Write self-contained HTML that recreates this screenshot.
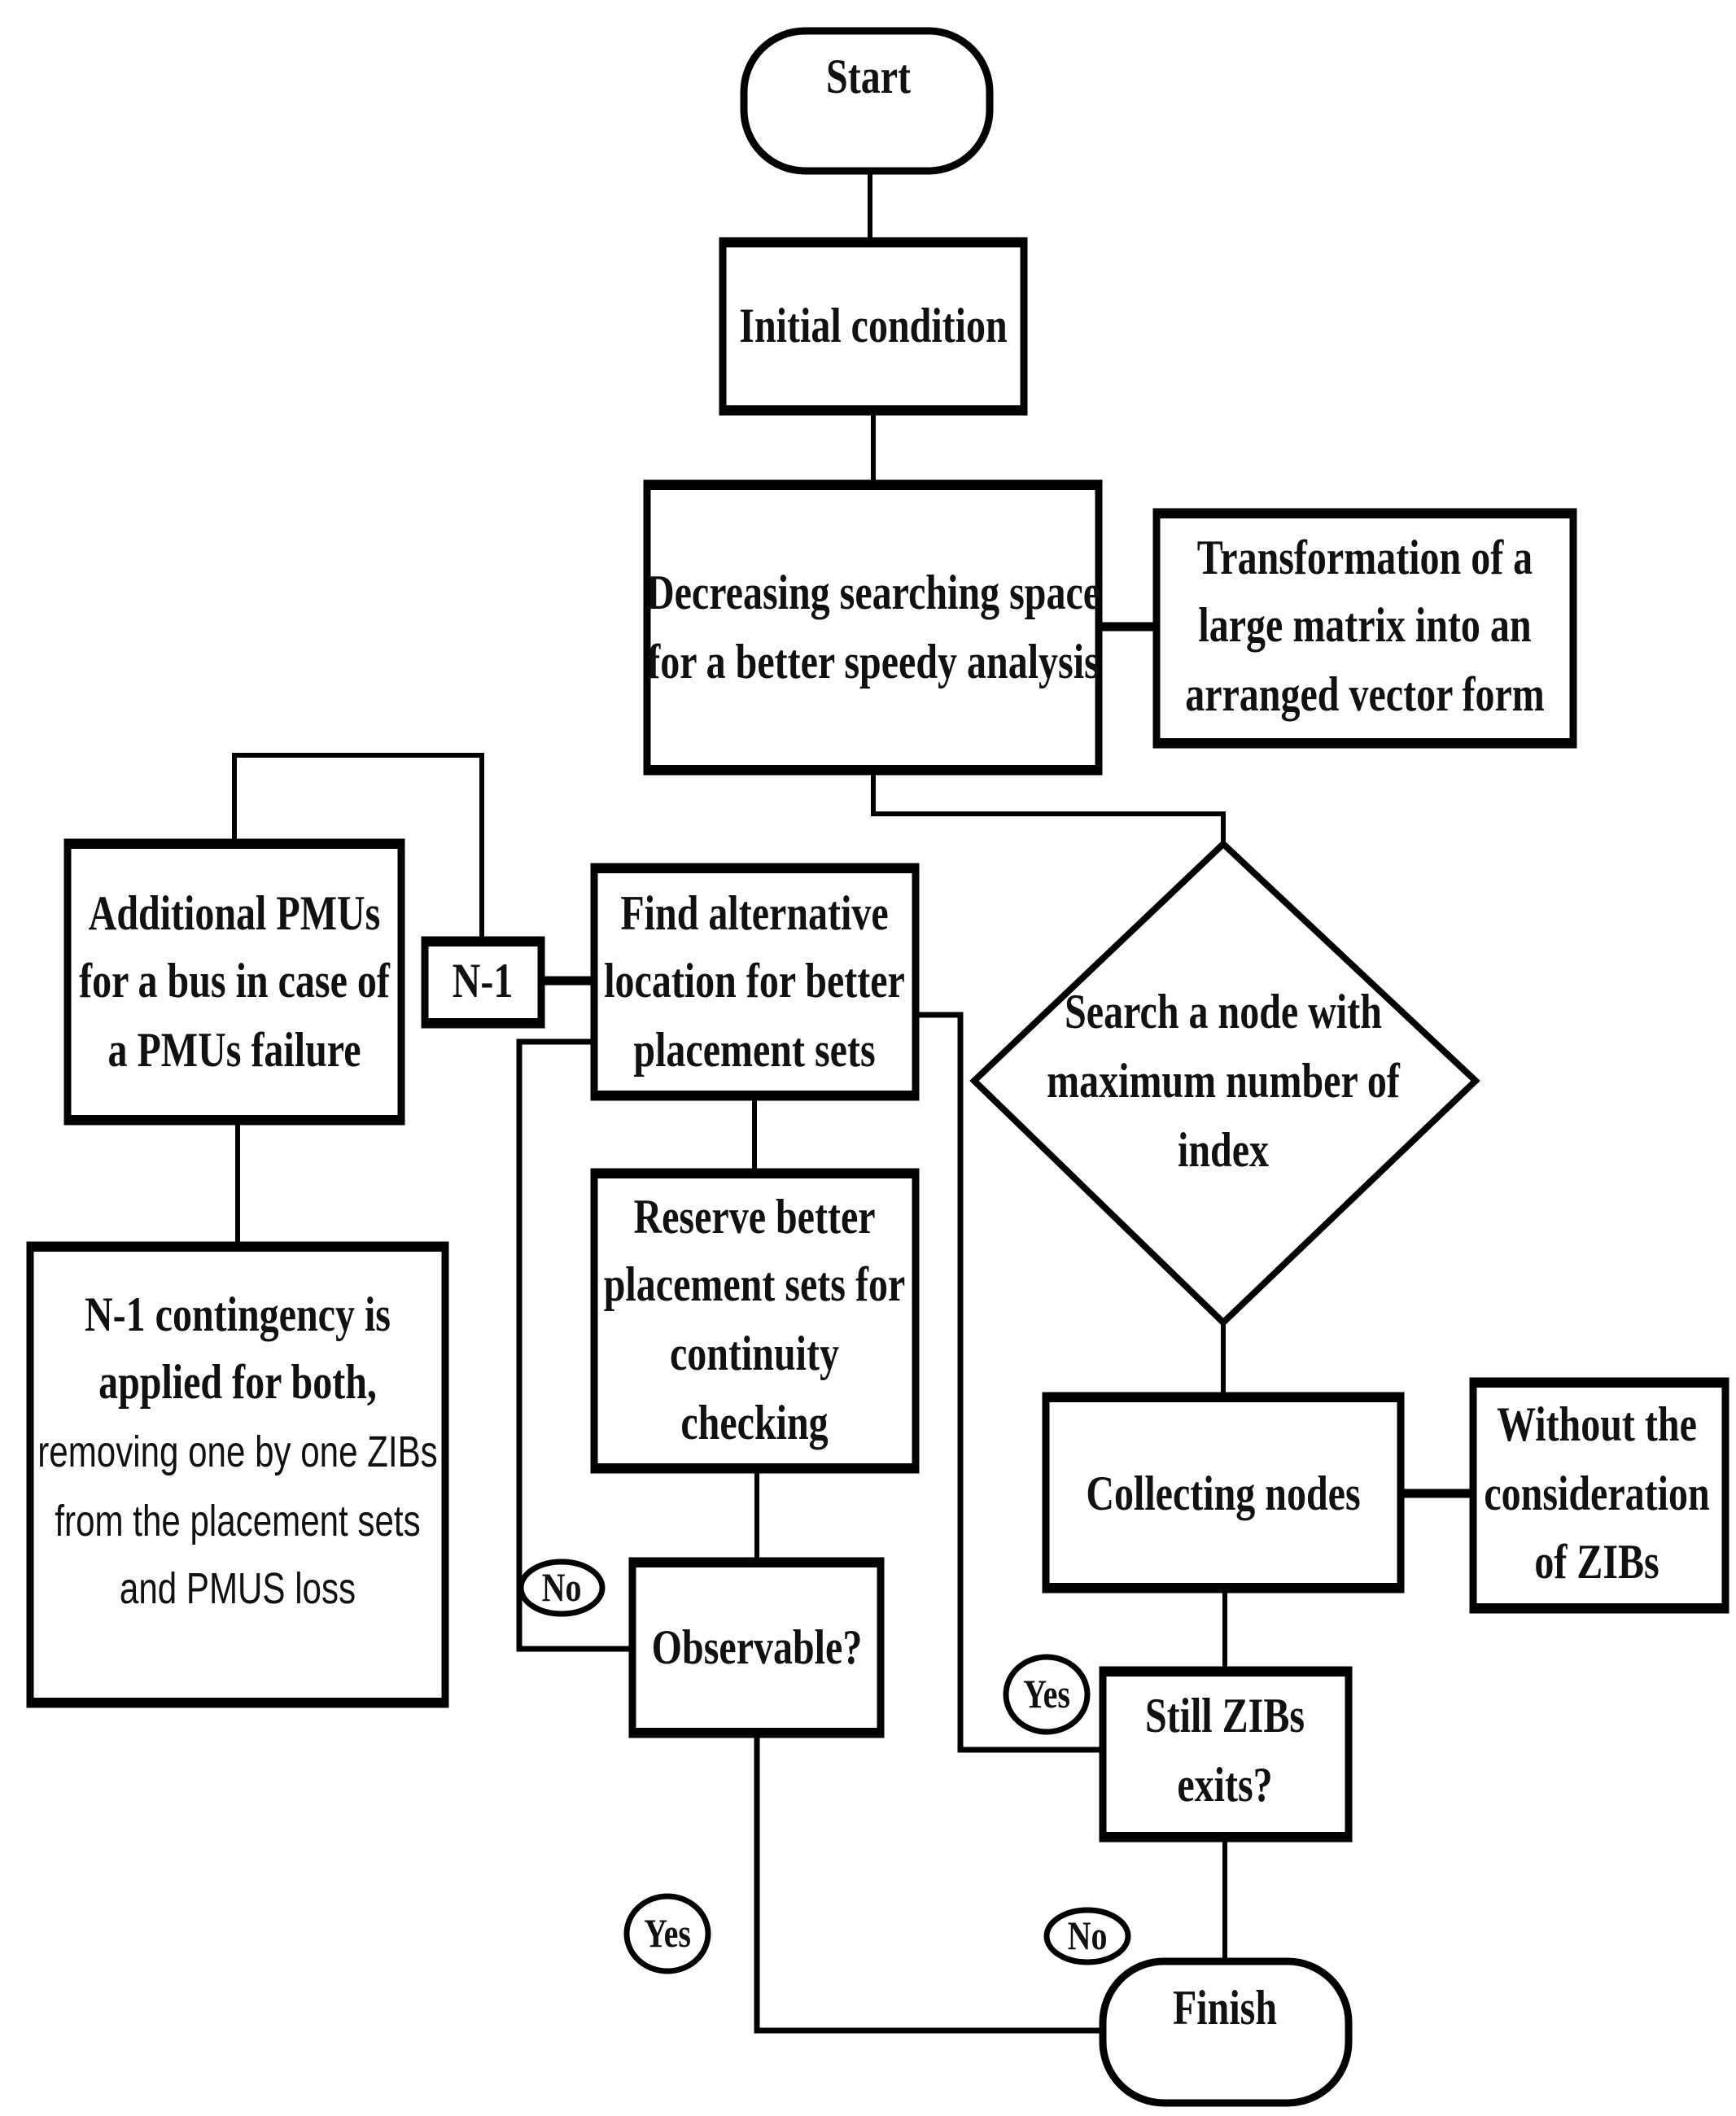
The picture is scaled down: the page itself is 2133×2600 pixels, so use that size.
<!DOCTYPE html>
<html><head><meta charset="utf-8"><style>
html,body{margin:0;padding:0;background:#fff;}
svg{display:block;}
text{font-family:"Liberation Serif",serif;font-weight:bold;font-size:60px;fill:#111;}
.s{font-family:"Liberation Sans",sans-serif;font-weight:normal;font-size:54px;}
.lbl{font-size:50px;}
</style></head><body>
<svg width="2133" height="2600" viewBox="0 0 2133 2600" xmlns="http://www.w3.org/2000/svg">
<defs>
<marker id="a" viewBox="0 0 10 10" refX="10" refY="5" markerWidth="5" markerHeight="5" markerUnits="userSpaceOnUse" orient="auto" overflow="visible">
<path d="M0,0 L10,5 L0,10 L3,5 z" fill="#000"/></marker>
</defs>
<g fill="none" stroke="#000" stroke-linejoin="miter">
<!-- Start -->
<rect x="914" y="38" width="302" height="172" rx="75" ry="75" stroke-width="9"/>
<!-- Initial -->
<rect x="888" y="296" width="370" height="210" stroke-width="9"/>
<!-- Decreasing -->
<rect x="795" y="594" width="555" height="354" stroke-width="9"/>
<!-- Transformation -->
<rect x="1421" y="629" width="512" height="286" stroke-width="9"/>
<!-- Diamond -->
<polygon points="1503,1037 1813,1328 1503,1625 1197,1328" stroke-width="8"/>
<!-- Collecting -->
<rect x="1285" y="1715" width="436" height="238" stroke-width="9"/>
<!-- Without -->
<rect x="1810" y="1697" width="310" height="281" stroke-width="9"/>
<!-- Still -->
<rect x="1355" y="2052" width="302" height="207" stroke-width="9"/>
<!-- Finish -->
<rect x="1355" y="2410" width="302" height="174" rx="75" ry="75" stroke-width="9"/>
<!-- Find -->
<rect x="730" y="1065" width="395" height="283" stroke-width="9"/>
<!-- N-1 -->
<rect x="522" y="1155" width="143" height="104" stroke-width="9"/>
<!-- Reserve -->
<rect x="730" y="1440" width="395" height="366" stroke-width="9"/>
<!-- Observable -->
<rect x="777" y="1918" width="305" height="213" stroke-width="9"/>
<!-- Additional -->
<rect x="83" y="1035" width="410" height="343" stroke-width="9"/>
<!-- N-1 contingency -->
<rect x="37" y="1530" width="510" height="564" stroke-width="9"/>
<!-- label ellipses -->
<ellipse cx="690" cy="1951" rx="50" ry="32" stroke-width="7"/>
<ellipse cx="1286" cy="2082" rx="50" ry="46" stroke-width="7"/>
<ellipse cx="820" cy="2376" rx="50" ry="46" stroke-width="7"/>
<ellipse cx="1336" cy="2379" rx="50" ry="32" stroke-width="7"/>
</g>
<!-- thicker top/bottom bars -->
<g fill="#000">
<rect x="888" y="292" width="370" height="12"/><rect x="888" y="498" width="370" height="12"/>
<rect x="795" y="590" width="555" height="12"/><rect x="795" y="940" width="555" height="12"/>
<rect x="1421" y="625" width="512" height="12"/><rect x="1421" y="907" width="512" height="12"/>
<rect x="1285" y="1711" width="436" height="12"/><rect x="1285" y="1945" width="436" height="12"/>
<rect x="1810" y="1693" width="310" height="12"/><rect x="1810" y="1970" width="310" height="12"/>
<rect x="1355" y="2048" width="302" height="12"/><rect x="1355" y="2251" width="302" height="12"/>
<rect x="730" y="1061" width="395" height="12"/><rect x="730" y="1340" width="395" height="12"/>
<rect x="522" y="1151" width="143" height="12"/><rect x="522" y="1251" width="143" height="12"/>
<rect x="730" y="1436" width="395" height="12"/><rect x="730" y="1798" width="395" height="12"/>
<rect x="777" y="1914" width="305" height="12"/><rect x="777" y="2123" width="305" height="12"/>
<rect x="83" y="1031" width="410" height="12"/><rect x="83" y="1370" width="410" height="12"/>
<rect x="37" y="1526" width="510" height="12"/><rect x="37" y="2086" width="510" height="12"/>
</g>
<!-- connectors -->
<g fill="none" stroke="#000" stroke-width="6" marker-end="url(#a)">
<path d="M1069,214 V292"/>
<path d="M1073,510 V590"/>
<path d="M1350,770 H1421" stroke-width="11"/>
<path d="M1073,952 V1000 H1503 V1037"/>
<path d="M1503,1625 V1711"/>
<path d="M1721,1835 H1810" stroke-width="11"/>
<path d="M1505,1957 V2048"/>
<path d="M1505,2263 V2410"/>
<path d="M1355,2150 H1180 V1247 H1125" stroke-width="7"/>
<path d="M730,1205 H665" stroke-width="11"/>
<path d="M927,1352 V1436"/>
<path d="M930,1810 V1914"/>
<path d="M777,2026 H638 V1280 H730" stroke-width="7"/>
<path d="M930,2135 V2495 H1355" stroke-width="7"/>
<path d="M288,1031 V928 H592 V1151"/>
<path d="M292,1526 V1382"/>
</g>
<!-- text -->
<g text-anchor="middle">
<text transform="translate(1067,114) scale(0.8,1)">Start</text>
<text transform="translate(1073,420) scale(0.8,1)">Initial condition</text>
<text transform="translate(1073,748) scale(0.8,1)">Decreasing searching space</text>
<text transform="translate(1073,833) scale(0.8,1)">for a better speedy analysis</text>
<text transform="translate(1677,705) scale(0.8,1)">Transformation of a</text>
<text transform="translate(1677,788) scale(0.8,1)">large matrix into an</text>
<text transform="translate(1677,873) scale(0.8,1)">arranged vector form</text>
<text transform="translate(1503,1263) scale(0.8,1)">Search a node with</text>
<text transform="translate(1503,1348) scale(0.8,1)">maximum number of</text>
<text transform="translate(1503,1433) scale(0.8,1)">index</text>
<text transform="translate(1503,1855) scale(0.8,1)">Collecting nodes</text>
<text transform="translate(1962,1770) scale(0.8,1)">Without the</text>
<text transform="translate(1962,1855) scale(0.8,1)">consideration</text>
<text transform="translate(1962,1939) scale(0.8,1)">of ZIBs</text>
<text transform="translate(1505,2128) scale(0.8,1)">Still ZIBs</text>
<text transform="translate(1505,2213) scale(0.8,1)">exits?</text>
<text transform="translate(1505,2487) scale(0.8,1)">Finish</text>
<text transform="translate(927,1142) scale(0.8,1)">Find alternative</text>
<text transform="translate(927,1225) scale(0.8,1)">location for better</text>
<text transform="translate(927,1310) scale(0.8,1)">placement sets</text>
<text transform="translate(593,1225) scale(0.8,1)">N-1</text>
<text transform="translate(927,1515) scale(0.8,1)">Reserve better</text>
<text transform="translate(927,1598) scale(0.8,1)">placement sets for</text>
<text transform="translate(927,1683) scale(0.8,1)">continuity</text>
<text transform="translate(927,1768) scale(0.8,1)">checking</text>
<text transform="translate(930,2044) scale(0.8,1)">Observable?</text>
<text transform="translate(288,1142) scale(0.8,1)">Additional PMUs</text>
<text transform="translate(288,1225) scale(0.8,1)">for a bus in case of</text>
<text transform="translate(288,1310) scale(0.8,1)">a PMUs failure</text>
<text transform="translate(292,1635) scale(0.8,1)">N-1 contingency is</text>
<text transform="translate(292,1718) scale(0.8,1)">applied for both,</text>
<text class="s" transform="translate(292,1802) scale(0.78,1)">removing one by one ZIBs</text>
<text class="s" transform="translate(292,1887) scale(0.78,1)">from the placement sets</text>
<text class="s" transform="translate(292,1970) scale(0.78,1)">and PMUS loss</text>
<text class="lbl" transform="translate(690,1967) scale(0.8,1)">No</text>
<text class="lbl" transform="translate(1286,2098) scale(0.8,1)">Yes</text>
<text class="lbl" transform="translate(820,2392) scale(0.8,1)">Yes</text>
<text class="lbl" transform="translate(1336,2395) scale(0.8,1)">No</text>
</g>
</svg>
</body></html>
